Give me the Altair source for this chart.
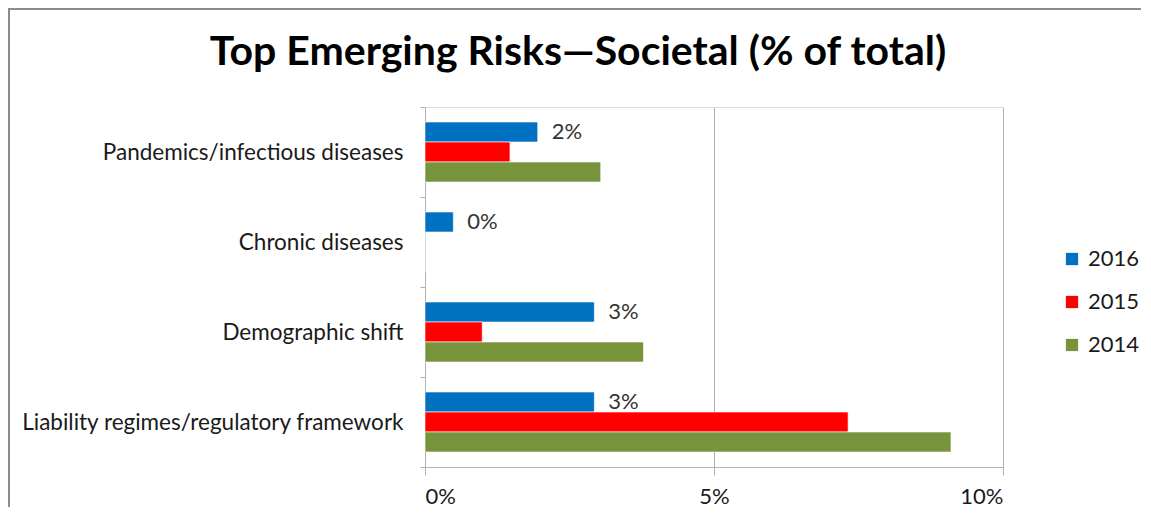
import altair as alt
import pandas as pd

categories = [
    "Pandemics/infectious diseases",
    "Chronic diseases",
    "Demographic shift",
    "Liability regimes/regulatory framework",
]
years = ["2016", "2015", "2014"]
v2016 = [1.95, 0.49, 2.93, 2.93]
v2015 = [1.47, 0.0, 0.99, 7.32]
v2014 = [3.04, 0.0, 3.78, 9.10]
colors = ["#0070C0", "#FF0000", "#77933C"]

rows = []
for i, c in enumerate(categories):
    for y, vals in zip(years, [v2016, v2015, v2014]):
        rows.append({"category": c, "year": y, "value": vals[i] / 100.0})
df = pd.DataFrame(rows)

FONT = "Lato"
FS = 22
W, H = 578, 360
PAD_R = 138

y_enc = alt.Y(
    "category:N",
    sort=categories,
    title=None,
    scale=alt.Scale(paddingInner=0, paddingOuter=0),
    axis=alt.Axis(
        tickBand="extent",
        domainColor="#b3b3b3",
        tickColor="#b3b3b3",
        tickSize=5,
        labelFont=FONT,
        labelFontSize=22.5,
        labelColor="#1a1a1a",
        labelPadding=17,
        labelLimit=600,
    ),
)
yoff = alt.YOffset(
    "year:N",
    sort=years,
    scale=alt.Scale(domain=years, paddingInner=0, paddingOuter=0.75),
)
x_enc = alt.X(
    "value:Q",
    title=None,
    scale=alt.Scale(domain=[0, 0.10], nice=False),
    axis=alt.Axis(
        values=[0, 0.05, 0.10],
        format=".0%",
        grid=True,
        gridColor="#b3b3b3",
        domainColor="#b3b3b3",
        tickColor="#b3b3b3",
        tickSize=8,
        labelFont=FONT,
        labelFontSize=FS,
        labelColor="#1a1a1a",
        labelPadding=11,
    ),
)

bars = alt.Chart(df).mark_bar(stroke="white", strokeWidth=0.6).encode(
    y=y_enc,
    yOffset=yoff,
    x=x_enc,
    color=alt.Color(
        "year:N",
        sort=years,
        scale=alt.Scale(domain=years, range=colors),
        legend=alt.Legend(
            title=None,
            orient="none",
            legendX=636,
            legendY=141,
            symbolType="square",
            symbolSize=150,
            symbolStrokeWidth=0,
            labelFont=FONT,
            labelFontSize=FS,
            labelColor="#1a1a1a",
            rowPadding=21,
            labelOffset=5,
        ),
    ),
)

labels = (
    alt.Chart(df)
    .transform_filter(alt.datum.year == "2016")
    .mark_text(align="left", baseline="middle", dx=14, font=FONT, fontSize=FS, color="#333333")
    .encode(
        y=alt.Y("category:N", sort=categories),
        yOffset=yoff,
        x="value:Q",
        text=alt.Text("value:Q", format=".0%"),
    )
)

title = alt.Chart(alt.Data(values=[{"t": "Top Emerging Risks\u2014Societal (% of total)"}])).mark_text(
    font=FONT, fontSize=41, fontWeight="bold", color="#000000", baseline="middle", align="center"
).encode(x=alt.value(153), y=alt.value(-54), text="t:N")

frame_top = alt.Chart(alt.Data(values=[{"a": 1}])).mark_rule(
    stroke="#8c8c8c", strokeWidth=2
).encode(x=alt.value(-417), x2=alt.value(W + PAD_R), y=alt.value(-98))
frame_left = alt.Chart(alt.Data(values=[{"a": 1}])).mark_rule(
    stroke="#8c8c8c", strokeWidth=2
).encode(x=alt.value(-416), y=alt.value(-99), y2=alt.value(H + 40))

chart = (
    alt.layer(frame_top, frame_left, bars, labels, title)
    .properties(
        width=W,
        height=H,
        autosize=alt.AutoSizeParams(type="none"),
        padding={"left": 417, "top": 99, "right": PAD_R, "bottom": 40},
    )
    .configure_view(stroke="transparent")
    .configure(background="white")
)

chart.save("out.html", embed_options={"renderer": "svg", "actions": False})
